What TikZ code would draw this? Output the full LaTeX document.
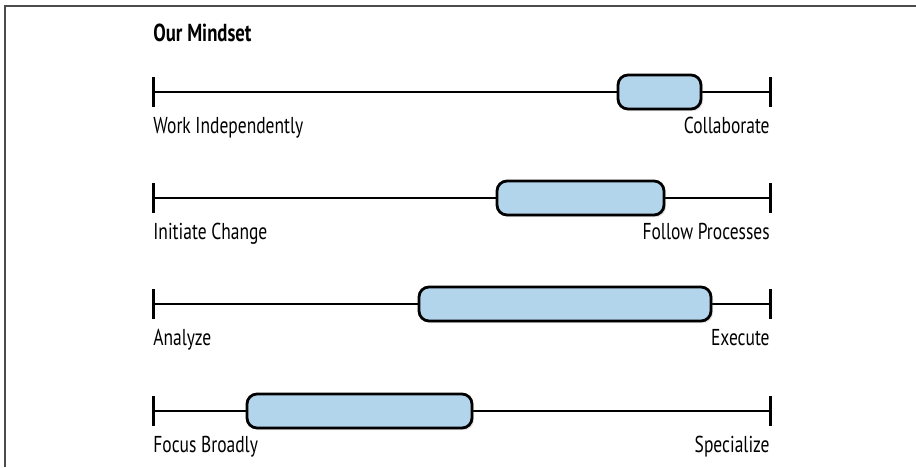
\documentclass[tikz,border=0pt]{standalone}
\usepackage{fontspec}
\setmainfont[FakeStretch=0.76]{PT Sans}
\usetikzlibrary{positioning,shadows}
\definecolor{barblue}{HTML}{B3D5EB}

\begin{document}
\begin{tikzpicture}[x=0.5pt,y=-0.5pt,
  axis/.style={line width=1pt},
  endtick/.style={line width=1.5pt},
  rangebox/.style={draw,line width=1.4pt,fill=barblue,rounded corners=5pt,inner sep=0pt,minimum height=17pt,
    drop shadow={opacity=0.25,shadow xshift=1pt,shadow yshift=-1pt}},
  pole/.style={font=\fontsize{11.5}{13}\selectfont,inner sep=0pt}]
\useasboundingbox (0,0) rectangle (916,467);
\draw[gray!60!black,line width=1pt] (5,467) -- (5,6) -- (916,6);   % frame, cut off right and below
\node[pole,font=\bfseries\fontsize{12.3}{14}\selectfont,anchor=base west] (title) at (153,41) {Our Mindset};
\foreach \y/\a/\b/\lo/\hi [count=\i] in {92/618/701/Work Independently/Collaborate,
    198/497/664/Initiate Change/Follow Processes,
    304/419/711/Analyze/Execute,
    411/247/472/Focus Broadly/Specialize}{
  \coordinate (L\i) at (153,\y);
  \coordinate (R\i) at (770,\y);
  \draw[axis] (L\i) -- (R\i);
  \draw[endtick] ([yshift=7.5pt]L\i) -- ([yshift=-7.5pt]L\i);   % left stop
  \draw[endtick] ([yshift=7.5pt]R\i) -- ([yshift=-7.5pt]R\i);   % right stop
  \node[rangebox,minimum width={(\b-\a)*0.5pt}] (B\i) at ({(\a+\b)/2},\y) {};
  \node[pole,anchor=base west] (lo\i) at (153,\y+41) {\lo};
  \node[pole,anchor=base east] (hi\i) at (770,\y+41) {\hi};
}
\end{tikzpicture}
\end{document}
